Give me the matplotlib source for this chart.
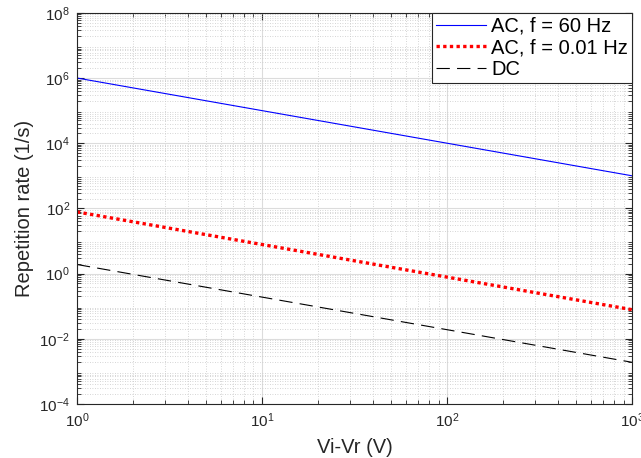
import matplotlib
matplotlib.use('Agg')
import matplotlib.pyplot as plt
import numpy as np

plt.rcParams['font.family'] = ['Liberation Sans', 'DejaVu Sans']
plt.rcParams['mathtext.fontset'] = 'custom'
plt.rcParams['mathtext.rm'] = 'Liberation Sans'

# applied voltage difference (V)
v_diff = [1, 10, 100, 1000]

# repetition rates (1/s) for each excitation
rate_ac_60hz = [1e6, 1e5, 1e4, 1e3]
rate_ac_001hz = [78, 7.8, 0.78, 0.078]
rate_dc = [1.9, 0.19, 0.019, 0.0019]

labels = ['AC, f = 60 Hz', 'AC, f = 0.01 Hz', 'DC']

fig = plt.figure(figsize=(6.41, 4.58), dpi=100)
ax = fig.add_axes([0.120, 0.118, 0.866, 0.854])

ax.loglog(v_diff, rate_ac_60hz, color='#0000ff', lw=0.8, label=labels[0])
ax.loglog(v_diff, rate_ac_001hz, color='#ff0000', lw=2.4, ls=(0, (1, 1)), label=labels[1])
ax.loglog(v_diff, rate_dc, color='black', lw=0.8, ls=(0, (12, 6.5)), label=labels[2])

ax.set_xlim(1, 1000)
ax.set_ylim(1e-4, 1e8)
ax.set_yticks([1e-4, 1e-2, 1e0, 1e2, 1e4, 1e6, 1e8])
ax.yaxis.set_minor_locator(matplotlib.ticker.LogLocator(base=10, subs=np.arange(2, 10), numticks=100))

# matlab style grid and ticks
ax.grid(True, which='major', color='#dcdcdc', lw=0.8, ls='-')
ax.grid(True, which='minor', color='#c8c8c8', lw=0.6, ls=(0, (1, 2)))
ax.tick_params(which='both', direction='in', top=True, right=True, labelsize=11, colors='#262626')
ax.tick_params(which='major', length=5, pad=5)
ax.tick_params(which='minor', length=3)
for s in ax.spines.values():
    s.set_color('#262626')
    s.set_linewidth(0.8)

ax.set_xlabel('Vi-Vr (V)', fontsize=14.5, color='#262626', labelpad=6)
ax.set_ylabel('Repetition rate (1/s)', fontsize=14.5, color='#262626', labelpad=4)

leg = ax.legend(loc='upper right', fontsize=14.5, fancybox=False, framealpha=1,
                edgecolor='#262626', borderaxespad=0, handlelength=2.5,
                borderpad=0.2, labelspacing=0.12, handletextpad=0.25)
leg.get_frame().set_linewidth(0.8)

fig.savefig('out.png', dpi=100)
